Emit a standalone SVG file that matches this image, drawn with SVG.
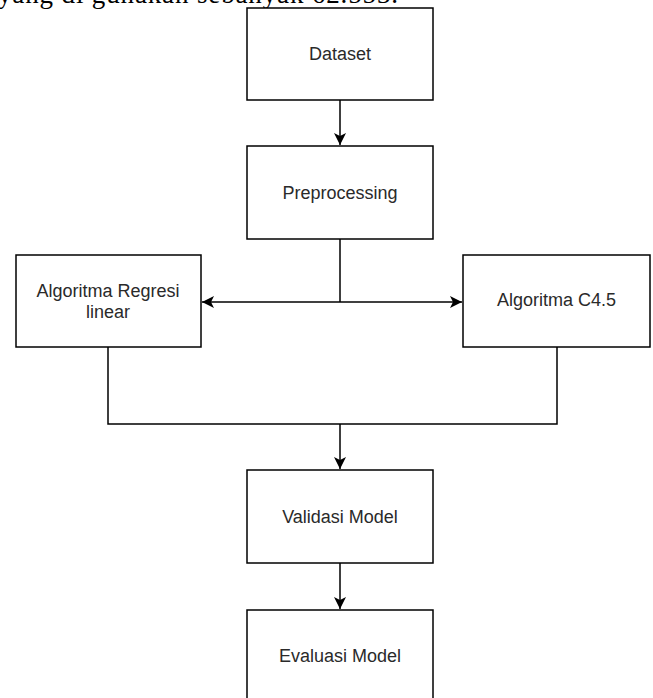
<svg xmlns="http://www.w3.org/2000/svg" width="653" height="698" viewBox="0 0 653 698">
  <style>
    .box { fill: #ffffff; stroke: #000000; stroke-width: 1.5; }
    .lbl { font-family: "Liberation Sans", Arial, sans-serif; font-size: 18px; fill: #2a2a2a; text-anchor: middle; }
    .edge { fill: none; stroke: #000000; stroke-width: 1.5; }
    .top { font-family: "Liberation Serif", "Times New Roman", serif; font-size: 27px; fill: #000000; }
  </style>
  <defs>
    <marker id="arrow" markerUnits="userSpaceOnUse" markerWidth="13" markerHeight="13" refX="12" refY="6.5" orient="auto">
      <path d="M0,0.5 L12,6.5 L0,12.5 L3,6.5 Z" fill="#000000"/>
    </marker>
  </defs>
  <rect width="653" height="698" fill="#ffffff"/>
  <text class="top" x="-2" y="3" textLength="400" lengthAdjust="spacing">yang di gunakan sebanyak 62.553.</text>

  <g id="connectors">
    <line class="edge" x1="340" y1="100" x2="340" y2="145" marker-end="url(#arrow)"/>
    <line class="edge" x1="340" y1="239" x2="340" y2="302"/>
    <line class="edge" x1="340" y1="302" x2="202" y2="302" marker-end="url(#arrow)"/>
    <line class="edge" x1="340" y1="302" x2="462" y2="302" marker-end="url(#arrow)"/>
    <polyline class="edge" points="108,347 108,424 557,424 557,347"/>
    <line class="edge" x1="340" y1="424" x2="340" y2="469" marker-end="url(#arrow)"/>
    <line class="edge" x1="340" y1="563" x2="340" y2="609" marker-end="url(#arrow)"/>
  </g>

  <g id="dataset">
    <rect class="box" x="247" y="8" width="186" height="92"/>
    <text class="lbl" x="340" y="60">Dataset</text>
  </g>
  <g id="preprocessing">
    <rect class="box" x="247" y="146" width="186" height="93"/>
    <text class="lbl" x="340" y="199">Preprocessing</text>
  </g>
  <g id="regresi">
    <rect class="box" x="16" y="255" width="185" height="92"/>
    <text class="lbl" x="108" y="297">Algoritma Regresi</text>
    <text class="lbl" x="108" y="318">linear</text>
  </g>
  <g id="c45">
    <rect class="box" x="463" y="255" width="187" height="92"/>
    <text class="lbl" x="556.5" y="306">Algoritma C4.5</text>
  </g>
  <g id="validasi">
    <rect class="box" x="247" y="470" width="186" height="93"/>
    <text class="lbl" x="340" y="523">Validasi Model</text>
  </g>
  <g id="evaluasi">
    <rect class="box" x="247" y="610" width="186" height="100"/>
    <text class="lbl" x="340" y="662">Evaluasi Model</text>
  </g>
</svg>
